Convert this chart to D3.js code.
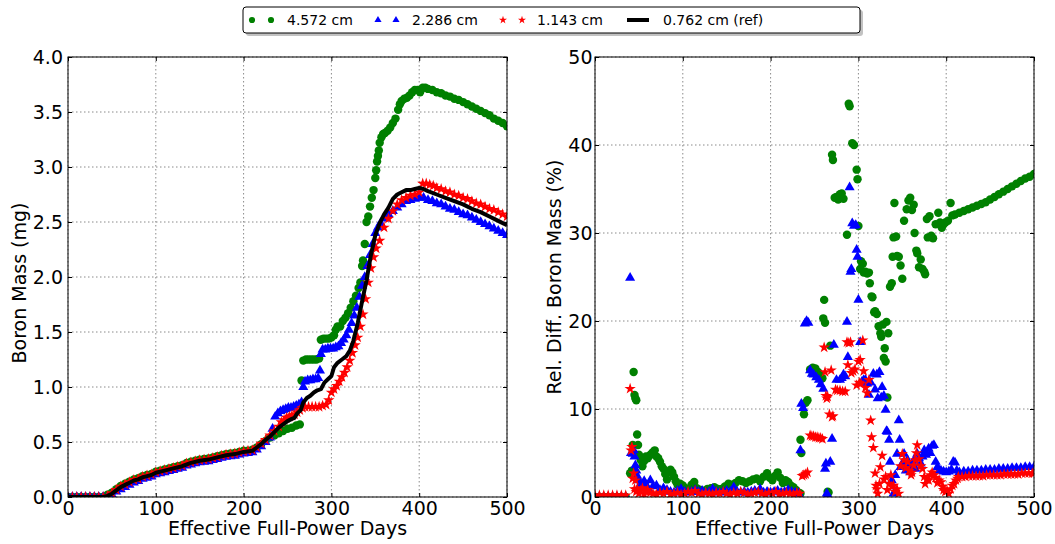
<!DOCTYPE html>
<html>
<head>
<meta charset="utf-8">
<script src="https://cdn.jsdelivr.net/npm/d3@7"></script>
<style>
  body { margin: 0; background: #fff; }
  text { font-family: "DejaVu Sans", sans-serif; }
</style>
</head>
<body>
<svg id="chart"></svg>
<script>
// data: [day, value] pairs
const legendLabels = ['4.572 cm', '2.286 cm', '1.143 cm', '0.762 cm (ref)'];
const xTicks = [0, 100, 200, 300, 400, 500];
const massTicks = [0, 0.5, 1.0, 1.5, 2.0, 2.5, 3.0, 3.5, 4.0];
const diffTicks = [0, 10, 20, 30, 40, 50];

// boron mass (mg)
const massRef = [[0,0],[10,0],[20,0],[30,0],[40,0],[45,0.01],[50,0.03],[55,0.06],[60,0.09],[65,0.11],[70,0.13],[75,0.15],[80,0.16],[85,0.18],[90,0.19],[95,0.20],[100,0.22],[110,0.24],[120,0.26],[130,0.28],[140,0.31],[150,0.33],[160,0.34],[170,0.36],[180,0.38],[190,0.39],[200,0.41],[210,0.42],[215,0.45],[220,0.48],[225,0.52],[230,0.55],[235,0.59],[240,0.63],[245,0.66],[250,0.69],[255,0.71],[258,0.72],[261,0.76],[265,0.79],[268,0.86],[272,0.90],[276,0.92],[280,0.95],[284,0.97],[288,0.98],[292,1.04],[296,1.07],[300,1.10],[303,1.18],[307,1.22],[312,1.25],[317,1.28],[321,1.33],[325,1.42],[330,1.58],[335,1.78],[340,1.97],[345,2.20],[350,2.38],[355,2.49],[360,2.57],[365,2.63],[370,2.71],[375,2.75],[380,2.77],[385,2.79],[390,2.79],[395,2.80],[400,2.81],[405,2.80],[410,2.78],[420,2.75],[430,2.72],[440,2.69],[450,2.66],[460,2.62],[470,2.59],[480,2.55],[490,2.51],[500,2.47]];

const massGreen = [[0,0],[5,0],[10,0],[15,0],[20,0],[25,0],[30,0],[35,0],[40,0],[45,0.02],[50,0.04],[55,0.07],[60,0.10],[65,0.12],[70,0.14],[75,0.16],[80,0.17],[85,0.19],[90,0.20],[95,0.21],[100,0.23],[105,0.24],[110,0.25],[115,0.26],[120,0.27],[125,0.28],[130,0.29],[135,0.31],[140,0.32],[145,0.33],[150,0.34],[155,0.345],[160,0.35],[165,0.36],[170,0.37],[175,0.38],[180,0.39],[185,0.395],[190,0.40],[195,0.41],[200,0.42],[205,0.42],[210,0.43],[215,0.45],[220,0.48],[225,0.51],[230,0.54],[235,0.56],[240,0.58],[245,0.60],[250,0.62],[255,0.63],[260,0.65],[264,0.66],[266,1.06],[268,1.24],[271,1.25],[274,1.25],[277,1.25],[280,1.25],[283,1.25],[286,1.26],[288,1.43],[291,1.44],[294,1.44],[297,1.44],[300,1.45],[303,1.47],[305,1.52],[307,1.55],[310,1.55],[313,1.60],[316,1.63],[319,1.67],[322,1.72],[325,1.78],[328,1.83],[331,1.90],[333,1.95],[335,2.10],[336,2.15],[338,2.30],[340,2.50],[342,2.55],[344,2.64],[346,2.72],[348,2.79],[350,2.90],[351,2.97],[352,3.05],[353,3.10],[354,3.15],[355,3.22],[357,3.27],[359,3.30],[361,3.31],[364,3.33],[367,3.36],[370,3.40],[373,3.44],[376,3.52],[378,3.57],[380,3.60],[383,3.62],[386,3.63],[389,3.65],[392,3.68],[395,3.70],[398,3.70],[401,3.68],[404,3.72],[407,3.72],[410,3.71],[415,3.70],[420,3.68],[425,3.67],[430,3.65],[435,3.64],[440,3.62],[445,3.61],[450,3.59],[455,3.57],[460,3.55],[465,3.53],[470,3.51],[475,3.49],[480,3.47],[485,3.44],[490,3.42],[495,3.40],[500,3.37]];

const massBlue = [[0,0],[5,0],[10,0],[15,0],[20,0],[25,0],[30,0],[35,0],[40,0],[45,0],[50,0.02],[55,0.05],[60,0.07],[65,0.09],[70,0.11],[75,0.13],[80,0.145],[85,0.165],[90,0.175],[95,0.185],[100,0.205],[105,0.215],[110,0.225],[115,0.235],[120,0.245],[125,0.255],[130,0.265],[135,0.285],[140,0.295],[145,0.305],[150,0.315],[155,0.32],[160,0.325],[165,0.335],[170,0.345],[175,0.355],[180,0.365],[185,0.37],[190,0.375],[195,0.385],[200,0.395],[205,0.40],[210,0.405],[215,0.43],[220,0.46],[225,0.50],[230,0.54],[233,0.62],[236,0.73],[239,0.76],[242,0.78],[245,0.79],[248,0.80],[251,0.81],[254,0.81],[257,0.82],[260,0.83],[263,0.84],[266,0.86],[268,1.00],[270,1.05],[273,1.06],[276,1.06],[279,1.07],[282,1.07],[285,1.08],[287,1.15],[288,1.30],[290,1.34],[293,1.34],[296,1.35],[299,1.35],[302,1.35],[305,1.36],[308,1.37],[311,1.40],[314,1.43],[317,1.47],[320,1.52],[323,1.58],[326,1.65],[329,1.72],[332,1.82],[335,1.92],[338,2.00],[341,2.10],[344,2.20],[347,2.30],[350,2.40],[353,2.45],[356,2.49],[360,2.53],[365,2.57],[370,2.60],[375,2.63],[380,2.66],[385,2.69],[390,2.70],[395,2.71],[400,2.72],[405,2.72],[410,2.70],[415,2.69],[420,2.67],[425,2.66],[430,2.64],[435,2.62],[440,2.61],[445,2.59],[450,2.57],[455,2.56],[460,2.54],[465,2.52],[470,2.50],[475,2.48],[480,2.46],[485,2.44],[490,2.42],[495,2.40],[500,2.38]];

const massRed = [[0,0],[5,0],[10,0],[15,0],[20,0],[25,0],[30,0],[35,0],[40,0],[45,0.01],[50,0.035],[55,0.065],[60,0.095],[65,0.115],[70,0.135],[75,0.155],[80,0.165],[85,0.185],[90,0.195],[95,0.205],[100,0.225],[105,0.235],[110,0.245],[115,0.255],[120,0.265],[125,0.275],[130,0.285],[135,0.305],[140,0.315],[145,0.325],[150,0.335],[155,0.34],[160,0.345],[165,0.355],[170,0.365],[175,0.375],[180,0.385],[185,0.39],[190,0.395],[195,0.405],[200,0.415],[205,0.42],[210,0.425],[215,0.45],[220,0.485],[225,0.52],[230,0.56],[235,0.60],[240,0.64],[243,0.68],[246,0.70],[249,0.72],[252,0.73],[255,0.74],[258,0.75],[261,0.77],[264,0.79],[267,0.81],[270,0.82],[274,0.82],[278,0.82],[282,0.82],[286,0.82],[290,0.83],[294,0.84],[297,0.88],[300,0.95],[303,0.98],[306,1.01],[309,1.05],[312,1.09],[315,1.13],[318,1.18],[321,1.24],[324,1.31],[327,1.38],[330,1.45],[333,1.55],[336,1.66],[339,1.80],[342,1.95],[345,2.08],[348,2.18],[351,2.26],[355,2.33],[360,2.45],[365,2.53],[370,2.60],[375,2.66],[380,2.70],[385,2.72],[390,2.74],[395,2.75],[400,2.77],[404,2.85],[408,2.85],[412,2.84],[416,2.83],[420,2.81],[425,2.80],[430,2.78],[435,2.77],[440,2.75],[445,2.74],[450,2.72],[455,2.71],[460,2.69],[465,2.67],[470,2.66],[475,2.64],[480,2.62],[485,2.61],[490,2.59],[495,2.57],[500,2.55]];

// relative difference (%)
const diffGreen = [[0,0],[5,0],[10,0],[15,0],[20,0],[25,0],[30,0],[35,0],[40,2.7],[42,3.0],[43,5.9],[44,14.2],[45,11.6],[46,11.2],[47,11.0],[48,7.1],[49,5.9],[50,4.8],[52,4.2],[54,3.5],[56,4.1],[58,4.6],[60,4.4],[62,4.7],[64,4.9],[66,5.1],[68,5.3],[70,4.6],[72,4.4],[74,4.0],[76,3.5],[78,3.2],[80,2.6],[82,2.0],[84,2.8],[86,3.1],[88,2.8],[90,2.3],[92,1.8],[94,1.4],[97,1.5],[100,1.3],[103,1.0],[106,0.9],[110,1.4],[113,1.7],[116,1.0],[120,0.8],[124,0.7],[128,0.9],[132,1.0],[136,1.1],[140,0.9],[144,0.9],[148,1.2],[152,1.5],[156,1.4],[160,1.6],[164,1.9],[168,1.8],[172,1.6],[176,1.8],[180,2.0],[184,2.1],[188,1.8],[192,2.3],[196,2.7],[199,2.2],[202,1.9],[205,2.4],[208,2.8],[211,2.2],[214,1.6],[217,1.9],[220,1.7],[223,1.3],[226,1.1],[229,0.8],[232,0.5],[234,0.4],[234,6.5],[235,5.0],[238,9.4],[240,10.7],[242,11.0],[245,14.5],[248,14.7],[251,14.6],[254,14.2],[256,13.9],[259,13.5],[260,20.3],[261,22.4],[262,19.8],[265,0.6],[266,0.5],[268,17.2],[270,38.9],[271,38.3],[273,34.0],[275,34.1],[277,33.8],[279,34.4],[281,34.5],[283,33.9],[287,29.8],[289,44.7],[290,44.4],[293,40.2],[295,40.0],[298,37.2],[299,36.1],[300,30.8],[302,25.9],[303,26.8],[305,26.5],[306,25.5],[308,25.6],[310,25.4],[312,25.5],[313,24.3],[315,22.8],[316,22.7],[318,21.0],[319,21.1],[321,20.8],[323,19.4],[325,18.6],[326,18.2],[328,19.6],[329,15.8],[330,16.9],[331,15.4],[332,19.9],[333,11.3],[334,18.6],[336,23.9],[338,24.3],[339,27.3],[340,29.5],[341,33.4],[343,29.6],[344,27.4],[346,27.3],[348,26.3],[350,24.8],[352,31.4],[355,32.7],[357,33.7],[359,34.0],[361,32.6],[363,33.2],[364,30.0],[366,28.0],[367,27.7],[369,26.1],[371,27.0],[373,25.9],[375,25.6],[376,25.3],[378,31.6],[379,29.5],[381,31.9],[383,29.7],[385,29.4],[388,31.0],[391,32.3],[393,31.2],[395,30.6],[397,31.0],[399,31.2],[402,31.4],[405,33.4],[407,32.0],[410,32.1],[415,32.3],[420,32.5],[425,32.7],[430,32.9],[435,33.1],[440,33.3],[445,33.5],[450,33.8],[455,34.1],[460,34.4],[465,34.7],[470,35.0],[475,35.3],[480,35.6],[485,35.9],[490,36.2],[495,36.4],[500,36.7]];

const diffBlue = [[0,0],[5,0],[10,0],[15,0],[20,0],[25,0],[30,0],[35,0],[40,24.9],[41,5.0],[43,4.9],[44,5.3],[45,4.6],[46,3.6],[47,3.0],[48,2.4],[50,1.9],[52,1.5],[54,1.3],[56,1.8],[58,1.4],[60,1.0],[63,1.9],[66,1.2],[70,1.3],[74,0.8],[78,1.0],[82,0.8],[86,0.6],[90,0.5],[94,0.7],[98,0.9],[102,0.6],[106,0.5],[110,0.6],[114,0.8],[118,0.6],[122,0.7],[126,0.5],[130,0.6],[134,0.9],[138,0.6],[142,0.5],[146,0.6],[150,0.7],[154,0.6],[158,1.1],[162,0.6],[166,0.5],[170,0.6],[174,0.5],[178,0.6],[182,0.7],[186,0.6],[188,0.9],[192,0.5],[196,0.6],[200,0.5],[204,0.6],[208,0.7],[212,0.5],[216,0.6],[220,0.8],[224,0.6],[228,0.5],[232,0.4],[234,5.3],[235,10.6],[237,10.1],[239,19.7],[241,20.0],[243,19.8],[245,14.4],[247,14.0],[249,13.9],[252,13.6],[255,13.3],[257,12.8],[260,12.3],[262,3.2],[263,3.8],[264,0.4],[265,0.2],[268,4.0],[270,6.6],[272,17.3],[275,13.3],[279,13.3],[281,13.5],[283,13.9],[285,13.7],[287,19.9],[288,15.9],[290,35.2],[291,25.6],[292,25.9],[293,31.1],[295,30.8],[297,30.9],[298,28.1],[299,27.3],[300,22.4],[302,17.6],[304,13.1],[306,13.3],[308,13.3],[310,12.9],[312,11.6],[314,13.0],[317,14.0],[319,12.2],[321,13.9],[322,11.2],[324,14.2],[326,11.3],[327,12.5],[329,11.5],[331,9.9],[332,7.5],[333,7.4],[335,6.5],[336,4.0],[338,1.9],[340,0.4],[342,2.5],[344,4.9],[346,8.7],[347,6.5],[348,3.4],[350,3.8],[352,4.9],[354,3.0],[356,4.2],[358,3.5],[359,2.8],[361,3.7],[363,4.1],[365,3.2],[367,4.9],[369,4.4],[371,3.8],[373,4.6],[375,5.3],[377,4.8],[380,5.5],[382,5.0],[384,5.8],[386,5.9],[388,4.0],[390,3.4],[392,3.0],[394,3.0],[397,2.9],[400,2.8],[403,2.9],[406,3.1],[408,4.0],[410,3.9],[412,3.0],[415,2.8],[420,2.9],[425,2.9],[430,3.0],[435,3.0],[440,3.0],[445,3.1],[450,3.1],[455,3.1],[460,3.2],[465,3.2],[470,3.2],[475,3.3],[480,3.3],[485,3.3],[490,3.4],[495,3.4],[500,3.4]];

const diffRed = [[0,0.2],[5,0.2],[10,0.2],[15,0.2],[20,0.2],[25,0.2],[30,0.2],[35,0.2],[40,12.3],[41,5.3],[42,5.7],[43,2.1],[44,2.7],[45,0.9],[46,1.9],[47,0.6],[48,0.9],[50,0.4],[52,0.7],[54,1.0],[56,0.3],[58,0.6],[60,0.8],[63,0.5],[66,0.4],[70,0.3],[74,0.5],[78,0.4],[82,0.6],[86,0.3],[90,0.4],[94,0.5],[98,0.3],[102,0.4],[106,0.6],[110,0.5],[114,0.7],[118,0.4],[122,0.3],[126,0.5],[130,0.4],[134,0.3],[138,0.5],[142,0.4],[146,0.6],[150,0.4],[154,0.3],[158,0.5],[162,0.4],[166,0.6],[170,0.5],[174,0.3],[178,0.4],[182,0.5],[186,0.6],[190,0.4],[194,0.3],[198,0.5],[202,0.4],[206,0.6],[210,0.3],[214,0.4],[218,0.5],[222,0.4],[226,0.3],[230,0.5],[233,0.4],[236,2.4],[238,2.5],[240,2.6],[242,2.8],[245,7.0],[247,6.9],[249,6.9],[251,6.8],[253,6.8],[255,6.7],[257,6.7],[259,6.6],[261,17.0],[262,14.2],[263,11.5],[264,11.2],[265,11.4],[267,9.4],[269,14.4],[270,9.1],[271,9.2],[274,12.2],[276,12.1],[279,12.1],[282,12.0],[285,12.0],[287,17.6],[288,15.0],[289,17.5],[291,17.6],[292,14.1],[294,14.3],[296,14.5],[298,12.7],[300,15.4],[301,13.0],[302,15.6],[303,12.9],[305,17.8],[306,14.3],[308,12.4],[310,11.8],[312,13.3],[314,8.7],[315,6.8],[317,5.6],[319,2.7],[320,1.3],[321,0.9],[322,0.4],[324,1.5],[325,3.4],[327,4.7],[329,2.0],[331,2.3],[333,0.8],[335,1.5],[337,2.5],[338,1.2],[340,1.3],[342,0.6],[344,0.9],[346,0.4],[348,3.5],[350,4.9],[352,4.2],[354,3.3],[356,4.0],[358,3.0],[360,2.5],[361,2.8],[363,3.6],[365,4.2],[366,5.0],[367,5.9],[369,4.3],[371,3.5],[373,3.2],[375,2.3],[376,1.5],[378,2.0],[380,1.9],[382,2.5],[384,2.8],[386,2.5],[388,2.2],[390,1.6],[392,1.9],[394,1.7],[396,1.2],[397,0.8],[399,0.6],[401,0.7],[403,0.4],[405,0.9],[407,1.3],[409,1.5],[411,1.9],[413,2.1],[414,2.3],[418,2.3],[422,2.3],[426,2.4],[430,2.4],[434,2.4],[438,2.4],[442,2.4],[446,2.5],[450,2.5],[454,2.5],[458,2.5],[462,2.5],[466,2.6],[470,2.6],[474,2.6],[478,2.6],[482,2.6],[486,2.7],[490,2.7],[494,2.7],[498,2.7],[500,2.7]];

// constants
const width = 1055;
const height = 544;
const panelW = 439;
const panelH = 440;
const marginTop = 57;
const colors = { green: '#008000', blue: '#0000ff', red: '#ff0000', black: '#000000' };
const fontSize = 19;

const svg = d3.select('#chart')
  .attr('width', width)
  .attr('height', height);

const symCircle = d3.symbol().type(d3.symbolCircle).size(56);
const symTri = d3.symbol().type(d3.symbolTriangle).size(44);
const symStar = d3.symbol().type(d3.symbolStar).size(40);

function drawPanel(id, left, yMax, yTicks, yFormat, labelPad, series, refLine) {
  const x = d3.scaleLinear().domain([0, 500]).range([0, panelW]);
  const y = d3.scaleLinear().domain([0, yMax]).range([panelH, 0]);

  const g = svg.append('g').attr('transform', `translate(${left},${marginTop})`);

  g.append('clipPath').attr('id', 'clip-' + id)
    .append('rect').attr('width', panelW).attr('height', panelH);

  // grid
  g.append('g').selectAll('line').data(xTicks).enter().append('line')
    .attr('x1', d => x(d)).attr('x2', d => x(d))
    .attr('y1', 0).attr('y2', panelH)
    .attr('stroke', '#8a8a8a').attr('stroke-width', 1).attr('stroke-dasharray', '1.5,2.5');
  g.append('g').selectAll('line').data(yTicks).enter().append('line')
    .attr('x1', 0).attr('x2', panelW)
    .attr('y1', d => y(d)).attr('y2', d => y(d))
    .attr('stroke', '#8a8a8a').attr('stroke-width', 1).attr('stroke-dasharray', '1.5,2.5');

  const plot = g.append('g').attr('clip-path', `url(#clip-${id})`);

  series.forEach(s => {
    plot.append('g').selectAll('path').data(s.data).enter().append('path')
      .attr('transform', d => `translate(${x(d[0])},${y(d[1])})`)
      .attr('d', s.sym)
      .attr('fill', s.color);
  });

  if (refLine) {
    plot.append('path')
      .datum(refLine)
      .attr('fill', 'none')
      .attr('stroke', colors.black)
      .attr('stroke-width', 4)
      .attr('stroke-linejoin', 'round')
      .attr('d', d3.line().x(d => x(d[0])).y(d => y(d[1])));
  }

  // axes, ticks pointing inwards
  g.append('g').attr('transform', `translate(0,${panelH})`)
    .call(d3.axisBottom(x).tickValues(xTicks).tickSize(-4).tickPadding(4.5).tickFormat(d3.format('d')));
  g.append('g')
    .call(d3.axisLeft(y).tickValues(yTicks).tickSize(-4).tickPadding(labelPad).tickFormat(d3.format(yFormat)));
  g.append('g').call(d3.axisTop(x).tickValues(xTicks).tickSize(-4).tickFormat(''));
  g.append('g').attr('transform', `translate(${panelW},0)`)
    .call(d3.axisRight(y).tickValues(yTicks).tickSize(-4).tickFormat(''));

  g.selectAll('.domain').remove();
  g.selectAll('.tick line').attr('stroke', '#000');
  g.selectAll('.tick text')
    .attr('font-size', fontSize)
    .attr('font-family', '"DejaVu Sans", sans-serif')
    .attr('fill', '#000');

  g.append('rect')
    .attr('width', panelW).attr('height', panelH)
    .attr('fill', 'none').attr('stroke', '#000').attr('stroke-width', 1);

  g.append('text')
    .attr('x', panelW / 2).attr('y', 478)
    .attr('text-anchor', 'middle')
    .attr('font-size', fontSize)
    .text('Effective Full-Power Days');

  return g;
}

drawPanel('mass', 68, 4.0, massTicks, '.1f', 5, [
  { data: massGreen, sym: symCircle, color: colors.green },
  { data: massBlue, sym: symTri, color: colors.blue },
  { data: massRed, sym: symStar, color: colors.red }
], massRef);

drawPanel('diff', 595, 50, diffTicks, 'd', 2.5, [
  { data: diffGreen, sym: symCircle, color: colors.green },
  { data: diffBlue, sym: symTri, color: colors.blue },
  { data: diffRed, sym: symStar, color: colors.red }
], null);

// y labels
svg.append('text')
  .attr('transform', 'translate(26,283) rotate(-90)')
  .attr('text-anchor', 'middle')
  .attr('font-size', fontSize)
  .text('Boron Mass (mg)');

svg.append('text')
  .attr('transform', 'translate(561,277) rotate(-90)')
  .attr('text-anchor', 'middle')
  .attr('font-size', fontSize)
  .text('Rel. Diff. Boron Mass (%)');

// legend
const legend = svg.append('g').attr('transform', 'translate(243,7)');
legend.append('rect')
  .attr('x', 3).attr('y', 3).attr('width', 617).attr('height', 26).attr('rx', 3)
  .attr('fill', '#999').attr('opacity', 0.6);
legend.append('rect')
  .attr('width', 617).attr('height', 26).attr('rx', 3)
  .attr('fill', '#fff').attr('stroke', '#000').attr('stroke-width', 1);

const legendItems = [
  { label: legendLabels[0], sym: d3.symbol().type(d3.symbolCircle).size(30), color: colors.green, mx: [9, 28], tx: 44 },
  { label: legendLabels[1], sym: d3.symbol().type(d3.symbolTriangle).size(22), color: colors.blue, mx: [135, 153], tx: 169 },
  { label: legendLabels[2], sym: d3.symbol().type(d3.symbolStar).size(20), color: colors.red, mx: [260, 279], tx: 294 },
  { label: legendLabels[3], sym: null, color: colors.black, mx: [384, 406], tx: 420 }
];

legendItems.forEach(it => {
  if (it.sym) {
    it.mx.forEach(mx => {
      legend.append('path')
        .attr('transform', `translate(${mx},13)`)
        .attr('d', it.sym)
        .attr('fill', it.color);
    });
  } else {
    legend.append('line')
      .attr('x1', it.mx[0]).attr('x2', it.mx[1])
      .attr('y1', 13).attr('y2', 13)
      .attr('stroke', it.color).attr('stroke-width', 4);
  }
  legend.append('text')
    .attr('x', it.tx).attr('y', 18)
    .attr('font-size', 14)
    .text(it.label);
});
</script>
</body>
</html>
